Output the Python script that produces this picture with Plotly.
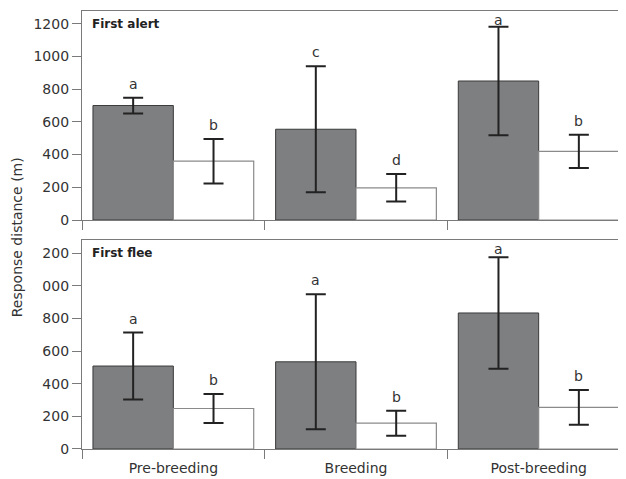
import plotly.graph_objects as go

categories = ["Pre-breeding", "Breeding", "Post-breeding"]

alert_dark = [700, 555, 850]
alert_dark_err = [48, 385, 332]
alert_white = [360, 197, 420]
alert_white_err = [136, 84, 102]
alert_dark_letters = ["a", "c", "a"]
alert_white_letters = ["b", "d", "b"]

flee_dark = [508, 534, 833]
flee_dark_err = [205, 413, 341]
flee_white = [248, 158, 255]
flee_white_err = [89, 77, 106]
flee_dark_letters = ["a", "a", "a"]
flee_white_letters = ["b", "b", "b"]

top_tickvals = [0, 200, 400, 600, 800, 1000, 1200]
top_ticktext = ["0", "200", "400", "600", "800", "1000", "1200"]
bottom_tickvals = [0, 200, 400, 600, 800, 1000, 1200]
bottom_ticktext = ["0", "200", "400", "600", "800", "000", "200"]

panel_titles = ["First alert", "First flee"]
y_title = "Response distance (m)"

DARK = "#7e7f81"
DARK_LINE = "#3a3a3a"
WHITE_LINE = "#8a8a8a"
ERR = "#222222"
AXIS = "#7a7a7a"
TXT = "#333333"
FONT = "DejaVu Sans"

fig = go.Figure()

panels = [
    ("x", "y", 1278, alert_dark, alert_dark_err, alert_white, alert_white_err,
     alert_dark_letters, alert_white_letters),
    ("x2", "y2", 1280, flee_dark, flee_dark_err, flee_white, flee_white_err,
     flee_dark_letters, flee_white_letters),
]

for xa, ya, ymax, dv, de, wv, we, dl, wl in panels:
    fig.add_trace(go.Bar(
        x=categories, y=dv, xaxis=xa, yaxis=ya, offsetgroup="d",
        marker=dict(color=DARK, line=dict(color=DARK_LINE, width=1)),
        error_y=dict(type="data", array=de, color=ERR, thickness=2, width=10),
        showlegend=False))
    fig.add_trace(go.Bar(
        x=categories, y=wv, xaxis=xa, yaxis=ya, offsetgroup="w",
        marker=dict(color="white", line=dict(color=WHITE_LINE, width=1.2)),
        error_y=dict(type="data", array=we, color=ERR, thickness=2, width=10),
        showlegend=False))
    for i, c in enumerate(categories):
        for vals, errs, letters, shift in ((dv, de, dl, -40.25), (wv, we, wl, 40.25)):
            top = vals[i] + errs[i]
            if top + 125 > ymax:
                ypos, anchor, ys = ymax, "top", 1
            else:
                ypos, anchor, ys = top, "bottom", 4
            fig.add_annotation(
                x=c, y=ypos, xref=xa, yref=ya,
                text=letters[i], showarrow=False, xshift=shift,
                yanchor=anchor, yshift=ys,
                font=dict(family=FONT, size=14, color=TXT))

xcommon = dict(
    type="category", range=[-0.5, 2.5], showline=True, linecolor=AXIS,
    linewidth=1.3, mirror=True, ticks="outside", tickson="boundaries",
    ticklen=9, tickcolor=AXIS, tickwidth=1.3, showgrid=False, zeroline=False,
    tickfont=dict(family=FONT, size=14, color=TXT))
ycommon = dict(
    range=[0, 1278], showline=True, linecolor=AXIS, linewidth=1.3,
    ticks="outside", ticklen=9, tickcolor=AXIS, tickwidth=1.3,
    showgrid=False, zeroline=False,
    tickfont=dict(family=FONT, size=14, color=TXT))

fig.update_layout(
    width=626, height=479,
    margin=dict(l=74, r=4, t=3, b=38),
    paper_bgcolor="white", plot_bgcolor="white",
    barmode="group", bargap=0.12, bargroupgap=0,
    xaxis=dict(xcommon, anchor="y", domain=[0, 1], showticklabels=False),
    yaxis=dict(ycommon, domain=[0.5228, 1], tickvals=top_tickvals,
               ticktext=top_ticktext),
    xaxis2=dict(xcommon, anchor="y2", domain=[0, 1], ticklabelstandoff=6),
    yaxis2=dict(ycommon, domain=[0, 0.4772], range=[0, 1280],
                tickvals=bottom_tickvals, ticktext=bottom_ticktext),
)

fig.add_annotation(x=0.015, y=0.992, xref="paper", yref="paper",
                   text="<b>" + panel_titles[0] + "</b>", showarrow=False,
                   xanchor="left", yanchor="top",
                   font=dict(family=FONT, size=12, color="#222"))
fig.add_annotation(x=0.015, y=0.469, xref="paper", yref="paper",
                   text="<b>" + panel_titles[1] + "</b>", showarrow=False,
                   xanchor="left", yanchor="top",
                   font=dict(family=FONT, size=12, color="#222"))
fig.add_annotation(x=-0.117, y=0.483, xref="paper", yref="paper",
                   text=y_title, showarrow=False, textangle=-90,
                   xanchor="center", yanchor="middle",
                   font=dict(family=FONT, size=14, color=TXT))

fig.write_html("out.html")
